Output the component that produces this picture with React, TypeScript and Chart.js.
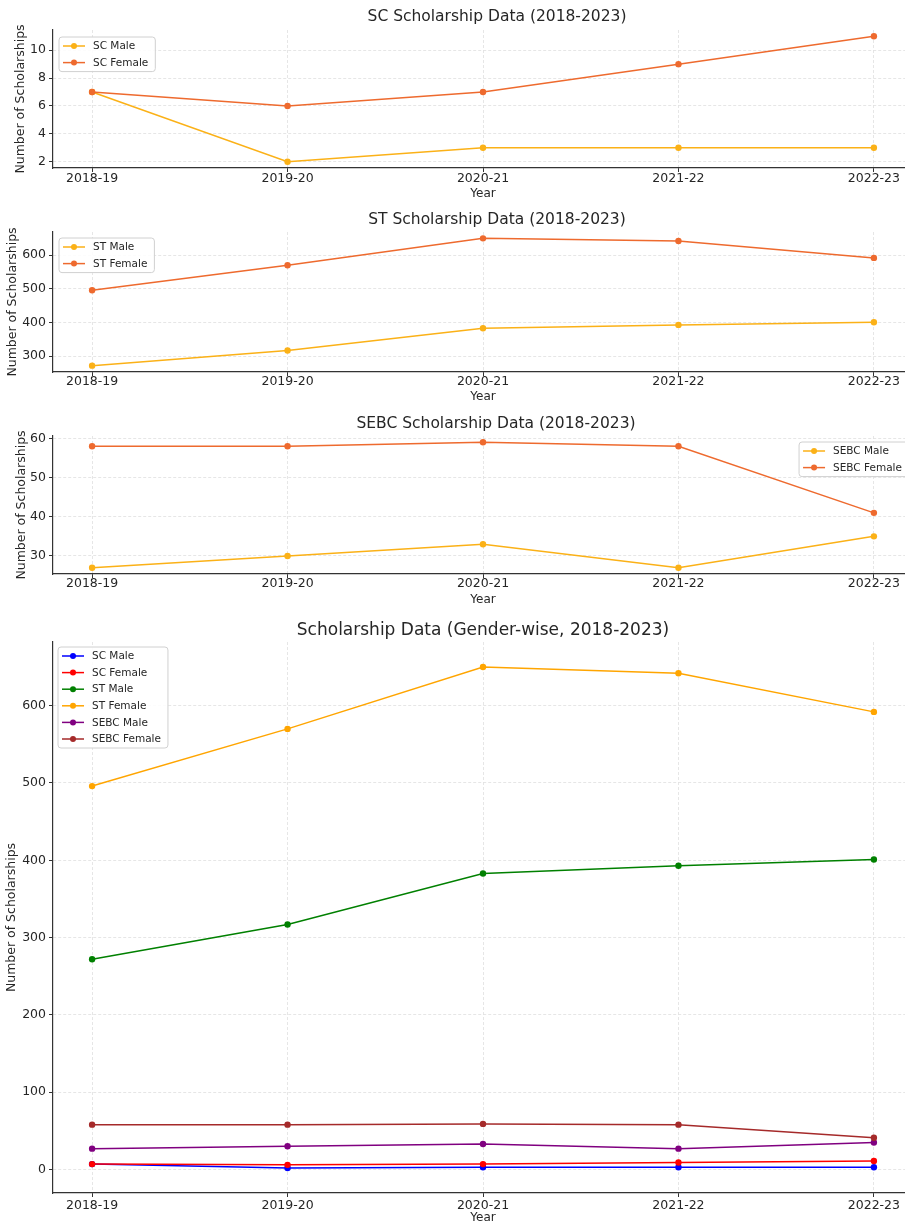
import React, { useEffect, useRef } from 'react';
import { Chart, registerables } from 'chart.js';

Chart.register(...registerables);

// ---------- data ----------
const categories = ['2018-19', '2019-20', '2020-21', '2021-22', '2022-23'];
const scMale = [7, 2, 3, 3, 3];
const scFemale = [7, 6, 7, 9, 11];
const stMale = [272, 317, 383, 393, 401];
const stFemale = [496, 570, 650, 642, 592];
const sebcMale = [27, 30, 33, 27, 35];
const sebcFemale = [58, 58, 59, 58, 41];

const scTicks = [2, 4, 6, 8, 10];
const stTicks = [300, 400, 500, 600];
const sebcTicks = [30, 40, 50, 60];
const allTicks = [0, 100, 200, 300, 400, 500, 600];

// ---------- styles ----------
const FONT = '"DejaVu Sans", "Liberation Sans", sans-serif';
const TEXT = '#262626';
const GRID = '#e0e0e0';
const AXIS = '#333333';
const MALE = '#FBB117';
const FEMALE = '#EE6A2E';
const CANVAS_W = 920;

function pts(values: number[]) {
  return values.map((v, i) => ({ x: i, y: v }));
}

function yRange(series: number[][]) {
  const all = series.flat();
  const lo = Math.min(...all);
  const hi = Math.max(...all);
  const m = (hi - lo) * 0.05;
  return [lo - m, hi + m];
}

const titlePlugin = {
  id: 'mplTitle',
  afterDraw(chart: any, _args: any, opts: any) {
    if (!opts || !opts.text) return;
    const ctx = chart.ctx as CanvasRenderingContext2D;
    ctx.save();
    ctx.font = `${opts.size}px ${FONT}`;
    ctx.fillStyle = TEXT;
    ctx.textAlign = 'center';
    ctx.textBaseline = 'middle';
    ctx.fillText(opts.text, opts.x, opts.y);
    ctx.restore();
  },
};

const legendPlugin = {
  id: 'mplLegend',
  afterDatasetsDraw(chart: any, _args: any, opts: any) {
    if (!opts || !opts.display) return;
    const ctx = chart.ctx as CanvasRenderingContext2D;
    const { left, right, top } = chart.chartArea;
    const ds = chart.data.datasets;
    ctx.save();
    ctx.font = `10.5px ${FONT}`;
    const maxW = Math.max(...ds.map((d: any) => ctx.measureText(d.label).width));
    const pad = 9;
    const spacing = 16.6;
    const w = maxW + 41;
    const h = 2 * pad + (ds.length - 1) * spacing;
    const x = opts.align === 'right' ? right - opts.dx - w : left + opts.dx;
    const y = top + opts.dy;
    ctx.beginPath();
    const r = 3;
    ctx.moveTo(x + r, y);
    ctx.lineTo(x + w - r, y);
    ctx.arcTo(x + w, y, x + w, y + r, r);
    ctx.lineTo(x + w, y + h - r);
    ctx.arcTo(x + w, y + h, x + w - r, y + h, r);
    ctx.lineTo(x + r, y + h);
    ctx.arcTo(x, y + h, x, y + h - r, r);
    ctx.lineTo(x, y + r);
    ctx.arcTo(x, y, x + r, y, r);
    ctx.closePath();
    ctx.fillStyle = 'rgba(255,255,255,0.85)';
    ctx.fill();
    ctx.strokeStyle = '#d0d0d0';
    ctx.lineWidth = 1;
    ctx.stroke();
    ds.forEach((d: any, i: number) => {
      const cy = y + pad + i * spacing;
      ctx.strokeStyle = d.borderColor;
      ctx.lineWidth = 1.5;
      ctx.beginPath();
      ctx.moveTo(x + 4, cy);
      ctx.lineTo(x + 26, cy);
      ctx.stroke();
      ctx.fillStyle = d.borderColor;
      ctx.beginPath();
      ctx.arc(x + 15, cy, 3, 0, Math.PI * 2);
      ctx.fill();
      ctx.fillStyle = TEXT;
      ctx.textBaseline = 'middle';
      ctx.textAlign = 'left';
      ctx.fillText(d.label, x + 34, cy + 0.5);
    });
    ctx.restore();
  },
};

type Series = { label: string; values: number[]; color: string };
type Panel = {
  title: string;
  titleX: number;
  titleY: number;
  titleSize: number;
  top: number;
  height: number;
  areaTop: number;
  yTitlePad: number;
  xTickPad: number;
  xTitlePad: number;
  xAxisHeight: number;
  series: Series[];
  yTicks: number[];
  legend: { align: 'left' | 'right'; dx: number; dy: number };
};

const panels: Panel[] = [
  {
    title: 'SC Scholarship Data (2018-2023)',
    titleX: 497,
    titleY: 17,
    titleSize: 15.5,
    top: 0,
    height: 205,
    areaTop: 30,
    yTitlePad: 13.5,
    xTickPad: -0.5,
    xTitlePad: 3.5,
    xAxisHeight: 37,
    series: [
      { label: 'SC Male', values: scMale, color: MALE },
      { label: 'SC Female', values: scFemale, color: FEMALE },
    ],
    yTicks: scTicks,
    legend: { align: 'left', dx: 6, dy: 7 },
  },
  {
    title: 'ST Scholarship Data (2018-2023)',
    titleX: 497,
    titleY: 15,
    titleSize: 15.5,
    top: 205,
    height: 203,
    areaTop: 27,
    yTitlePad: 5.5,
    xTickPad: -1.5,
    xTitlePad: 3.5,
    xAxisHeight: 36,
    series: [
      { label: 'ST Male', values: stMale, color: MALE },
      { label: 'ST Female', values: stFemale, color: FEMALE },
    ],
    yTicks: stTicks,
    legend: { align: 'left', dx: 6, dy: 6 },
  },
  {
    title: 'SEBC Scholarship Data (2018-2023)',
    titleX: 496,
    titleY: 16,
    titleSize: 15.5,
    top: 408,
    height: 204,
    areaTop: 28,
    yTitlePad: 14.5,
    xTickPad: -1.5,
    xTitlePad: 4.5,
    xAxisHeight: 38,
    series: [
      { label: 'SEBC Male', values: sebcMale, color: MALE },
      { label: 'SEBC Female', values: sebcFemale, color: FEMALE },
    ],
    yTicks: sebcTicks,
    legend: { align: 'right', dx: 4, dy: 6 },
  },
  {
    title: 'Scholarship Data (Gender-wise, 2018-2023)',
    titleX: 483,
    titleY: 19,
    titleSize: 17,
    top: 612,
    height: 613,
    areaTop: 30,
    yTitlePad: 4.5,
    xTickPad: 1.5,
    xTitlePad: 0,
    xAxisHeight: 32,
    series: [
      { label: 'SC Male', values: scMale, color: '#0000FF' },
      { label: 'SC Female', values: scFemale, color: '#FF0000' },
      { label: 'ST Male', values: stMale, color: '#008000' },
      { label: 'ST Female', values: stFemale, color: '#FFA500' },
      { label: 'SEBC Male', values: sebcMale, color: '#800080' },
      { label: 'SEBC Female', values: sebcFemale, color: '#A52A2A' },
    ],
    yTicks: allTicks,
    legend: { align: 'left', dx: 5, dy: 5 },
  },
];

function PanelChart({ p }: { p: Panel }) {
  const ref = useRef<HTMLCanvasElement | null>(null);
  useEffect(() => {
    if (!ref.current) return;
    const [ymin, ymax] = yRange(p.series.map((s) => s.values));
    const n = p.series.length;
    const chart = new Chart(ref.current, {
      type: 'line',
      data: {
        datasets: p.series.map((s, i) => ({
          label: s.label,
          data: pts(s.values),
          borderColor: s.color,
          backgroundColor: s.color,
          pointBackgroundColor: s.color,
          pointBorderWidth: 0,
          pointRadius: 3.2,
          borderWidth: 1.5,
          tension: 0,
          order: n - i,
        })),
      },
      options: {
        animation: false,
        responsive: false,
        events: [],
        layout: { padding: { left: 0, right: CANVAS_W - 913, top: p.areaTop, bottom: 0 } },
        plugins: {
          legend: { display: false },
          tooltip: { enabled: false },
          title: { display: false },
          mplTitle: { text: p.title, x: p.titleX, y: p.titleY, size: p.titleSize },
          mplLegend: { display: true, ...p.legend },
        } as any,
        scales: {
          x: {
            type: 'linear',
            min: -0.2,
            max: 4.2,
            afterBuildTicks: (s: any) => {
              s.ticks = categories.map((_, i) => ({ value: i }));
            },
            afterFit: (s: any) => {
              s.height = p.xAxisHeight;
            },
            ticks: {
              callback: (v: any) => categories[v as number] ?? '',
              font: { family: FONT, size: 12.5 },
              color: TEXT,
              padding: p.xTickPad,
              maxRotation: 0,
              autoSkip: false,
              includeBounds: false,
            },
            grid: { color: GRID, lineWidth: 0.8, tickLength: 4, tickColor: AXIS, tickWidth: 1 },
            border: { display: true, color: AXIS, width: 1.2, dash: [3, 2] },
            title: {
              display: true,
              text: 'Year',
              color: TEXT,
              font: { family: FONT, size: 12, lineHeight: 1.25 },
              padding: { top: 0, bottom: p.xTitlePad },
            },
          },
          y: {
            type: 'linear',
            min: ymin,
            max: ymax,
            afterBuildTicks: (s: any) => {
              s.ticks = p.yTicks.map((v) => ({ value: v }));
            },
            afterFit: (s: any) => {
              s.width = 53;
            },
            ticks: {
              font: { family: FONT, size: 12.5 },
              color: TEXT,
              padding: 3,
              includeBounds: false,
            },
            grid: { color: GRID, lineWidth: 0.8, tickLength: 4, tickColor: AXIS, tickWidth: 1 },
            border: { display: true, color: AXIS, width: 1.2, dash: [3, 2] },
            title: {
              display: true,
              text: 'Number of Scholarships',
              color: TEXT,
              font: { family: FONT, size: 12.5, lineHeight: 1.2 },
              padding: { top: p.yTitlePad, bottom: 0 },
            },
          },
        },
      } as any,
      plugins: [legendPlugin as any, titlePlugin as any],
    });
    return () => chart.destroy();
  }, [p]);
  return (
    <canvas
      ref={ref}
      width={CANVAS_W}
      height={p.height}
      style={{ position: 'absolute', left: 0, top: p.top, width: CANVAS_W, height: p.height }}
    />
  );
}

export default function App() {
  return (
    <div
      style={{
        position: 'fixed',
        left: 0,
        top: 0,
        width: 905,
        height: 1225,
        overflow: 'hidden',
        background: '#ffffff',
      }}
    >
      {panels.map((p) => (
        <PanelChart key={p.title} p={p} />
      ))}
    </div>
  );
}
